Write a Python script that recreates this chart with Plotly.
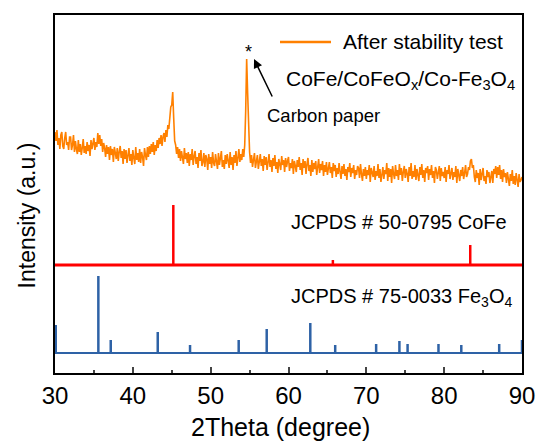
import plotly.graph_objects as go

# ---------------- data ----------------
two_theta_start = 30.0
two_theta_step = 0.125
# After stability test (a.u.), 30 -> 90 deg every 0.125 deg (8 values per degree)
after_test = [
    241, 232, 243, 228, 235, 224, 238, 241,   # 30
    227, 224, 235, 241, 228, 231, 223, 236,   # 31
    236, 223, 228, 238, 221, 232, 224, 219,   # 32
    233, 221, 229, 218, 225, 234, 220, 227,   # 33
    219, 231, 222, 228, 217, 233, 224, 230,   # 34
    235, 223, 231, 226, 240, 229, 238, 227,   # 35
    234, 221, 230, 225, 216, 228, 219, 226,   # 36
    213, 227, 218, 224, 211, 226, 219, 214,   # 37
    225, 212, 221, 227, 215, 222, 209, 224,   # 38
    214, 223, 210, 220, 225, 212, 219, 208,   # 39
    223, 215, 209, 226, 213, 220, 211, 224,   # 40
    210, 221, 216, 207, 225, 218, 213, 226,   # 41
    216, 227, 219, 229, 221, 231, 218, 228,   # 42
    222, 233, 225, 235, 229, 238, 227, 236,   # 43
    240, 231, 243, 236, 248, 244, 257, 266,   # 44
    268, 281, 255, 232, 228, 219, 226, 215,   # 45
    224, 212, 222, 217, 209, 225, 214, 220,   # 46
    210, 221, 207, 219, 213, 224, 208, 217,   # 47
    222, 209, 216, 205, 220, 212, 223, 207,   # 48
    211, 220, 206, 218, 214, 203, 219, 209,   # 49
    216, 205, 221, 210, 207, 219, 212, 204,   # 50
    220, 208, 215, 222, 206, 213, 204, 218,   # 51
    209, 219, 212, 205, 221, 208, 216, 203,   # 52
    218, 210, 222, 207, 215, 224, 211, 219,   # 53
    213, 224, 216, 228, 262, 314, 280, 232,   # 54
    221, 210, 218, 206, 215, 220, 205, 213,   # 55
    218, 204, 211, 219, 207, 214, 202, 217,   # 56
    208, 216, 203, 212, 219, 206, 213, 201,   # 57
    215, 207, 218, 204, 211, 200, 214, 209,   # 58
    203, 217, 208, 213, 201, 215, 206, 212,   # 59
    216, 202, 210, 205, 214, 199, 212, 207,   # 60
    201, 213, 206, 216, 203, 210, 198, 214,   # 61
    205, 212, 199, 209, 215, 202, 208, 197,   # 62
    213, 201, 210, 204, 212, 198, 206, 214,   # 63
    200, 209, 203, 212, 197, 208, 201, 211,   # 64
    198, 207, 211, 200, 206, 195, 210, 202,   # 65
    208, 196, 205, 199, 210, 201, 194, 207,   # 66
    199, 209, 197, 204, 193, 206, 201, 210,   # 67
    196, 205, 200, 208, 194, 203, 198, 207,   # 68
    205, 195, 209, 199, 192, 204, 197, 206,   # 69
    194, 203, 198, 208, 191, 205, 200, 196,   # 70
    207, 193, 202, 197, 209, 195, 204, 191,   # 71
    198, 206, 194, 203, 199, 210, 192, 205,   # 72
    196, 204, 190, 207, 199, 194, 208, 197,   # 73
    203, 193, 209, 198, 205, 192, 201, 207,   # 74
    195, 204, 199, 191, 206, 197, 210, 194,   # 75
    202, 196, 208, 193, 204, 199, 192, 206,   # 76
    198, 209, 195, 203, 191, 205, 200, 207,   # 77
    193, 204, 198, 208, 195, 202, 190, 206,   # 78
    203, 194, 200, 207, 192, 205, 197, 201,   # 79
    195, 206, 191, 203, 199, 208, 194, 202,   # 80
    205, 193, 201, 196, 207, 190, 204, 198,   # 81
    192, 203, 197, 206, 194, 200, 208, 196,   # 82
    199, 206, 203, 212, 214, 205, 208, 196,   # 83
    191, 203, 195, 200, 188, 204, 193, 199,   # 84
    205, 192, 197, 189, 203, 196, 201, 190,   # 85
    196, 202, 190, 204, 199, 207, 195, 206,   # 86
    198, 208, 194, 203, 191, 204, 196, 200,   # 87
    190, 201, 194, 187, 199, 192, 203, 189,   # 88
    197, 188, 200, 192, 186, 199, 191, 193,   # 89
    196,                                      # 90
]
two_theta = [two_theta_start + two_theta_step * i for i in range(len(after_test))]

cofe_pos = [45.2, 65.7, 83.35]
cofe_int = [60, 5, 20]
cofe_base = 108

fe3o4_pos = [30.1, 35.57, 37.16, 43.2, 47.35, 53.6, 57.2, 62.8, 66.0, 71.26,
             74.25, 75.3, 79.27, 82.2, 87.07, 90.0]
fe3o4_int = [28, 77, 13, 21, 8, 13, 24, 30, 8, 9, 12, 9, 9, 8, 9, 13]
fe3o4_base = 20

x_ticks = [30, 40, 50, 60, 70, 80, 90]

ORANGE = "#FF8000"
RED = "#FF0000"
BLUE = "#2E62A6"
FONT = "Liberation Sans, Arial, sans-serif"


def sticks(pos, inten, base):
    xs, ys = [], []
    for p, h in zip(pos, inten):
        xs += [p, p, None]
        ys += [base, base + h, None]
    return xs, ys


fig = go.Figure()

fig.add_trace(go.Scatter(
    x=two_theta, y=after_test, mode="lines",
    line=dict(color=ORANGE, width=1.6),
    name="After stability test", showlegend=False))

# CoFe reference
fig.add_trace(go.Scatter(x=[30, 90], y=[cofe_base, cofe_base], mode="lines",
                         line=dict(color=RED, width=3), showlegend=False))
sx, sy = sticks(cofe_pos, cofe_int, cofe_base)
fig.add_trace(go.Scatter(x=sx, y=sy, mode="lines",
                         line=dict(color=RED, width=2.5), showlegend=False))

# Fe3O4 reference
fig.add_trace(go.Scatter(x=[30, 90], y=[fe3o4_base, fe3o4_base], mode="lines",
                         line=dict(color=BLUE, width=2.2), showlegend=False))
sx, sy = sticks(fe3o4_pos, fe3o4_int, fe3o4_base)
fig.add_trace(go.Scatter(x=sx, y=sy, mode="lines",
                         line=dict(color=BLUE, width=2.5), showlegend=False))

# legend (drawn manually to match the long sample line)
fig.add_shape(type="line", xref="paper", yref="paper",
              x0=0.4818, x1=0.591, y0=0.9246, y1=0.9246,
              line=dict(color=ORANGE, width=2.5))
fig.add_annotation(x=0.613, y=0.9246, xref="paper", yref="paper",
                   xanchor="left", yanchor="middle", text="After stability test",
                   showarrow=False, font=dict(family=FONT, size=21, color="black"))

ann_font = dict(family=FONT, size=20, color="black")
fig.add_annotation(x=59.4, y=293, xref="x", yref="y", xanchor="left", yanchor="middle",
                   text="CoFe/CoFeO<sub>x</sub>/Co-Fe<sub>3</sub>O<sub>4</sub>",
                   showarrow=False, font=dict(family=FONT, size=21, color="black"))
fig.add_annotation(x=57.0, y=258, xref="x", yref="y", xanchor="left", yanchor="middle",
                   text="Carbon paper", showarrow=False,
                   font=dict(family=FONT, size=18.5, color="black"))
fig.add_annotation(x=54.8, y=321, xref="x", yref="y", text="*", showarrow=False,
                   font=dict(family=FONT, size=18, color="black"))
fig.add_annotation(x=55.57, y=314, xref="x", yref="y", ax=58.0, ay=275,
                   axref="x", ayref="y", text="", showarrow=True,
                   arrowhead=2, arrowsize=1.2, arrowwidth=1.5, arrowcolor="black")
fig.add_annotation(x=60.1, y=151, xref="x", yref="y", xanchor="left", yanchor="middle",
                   text="JCPDS # 50-0795 CoFe", showarrow=False, font=ann_font)
fig.add_annotation(x=60.1, y=76, xref="x", yref="y", xanchor="left", yanchor="middle",
                   text="JCPDS # 75-0033 Fe<sub>3</sub>O<sub>4</sub>", showarrow=False,
                   font=ann_font)

# axis titles
fig.add_annotation(x=-0.058, y=0.44, xref="paper", yref="paper", textangle=-90,
                   xanchor="center", yanchor="middle", text="Intensity (a.u.)",
                   showarrow=False, font=dict(family=FONT, size=23, color="black"))
fig.add_annotation(x=0.482, y=-0.151, xref="paper", yref="paper",
                   xanchor="center", yanchor="middle", text="2Theta (degree)",
                   showarrow=False, font=dict(family=FONT, size=25, color="black"))

fig.update_layout(
    width=538, height=441,
    margin=dict(l=55, r=16, t=15, b=68, autoexpand=False),
    paper_bgcolor="white", plot_bgcolor="white",
    font=dict(family=FONT, color="black"),
    showlegend=False,
)
fig.update_xaxes(
    range=[30, 90], tickvals=x_ticks, ticks="inside", ticklen=6, tickwidth=1.5,
    minor=dict(ticks="inside", ticklen=3, dtick=5, tickwidth=1.5),
    showline=True, linewidth=2, linecolor="black", mirror=True,
    showgrid=False, zeroline=False, automargin=False,
    tickfont=dict(family=FONT, size=24),
)
fig.update_yaxes(
    range=[0, 358], showticklabels=False, ticks="",
    showline=True, linewidth=2, linecolor="black", mirror=True,
    showgrid=False, zeroline=False, automargin=False,
)

fig.write_html("out.html")
